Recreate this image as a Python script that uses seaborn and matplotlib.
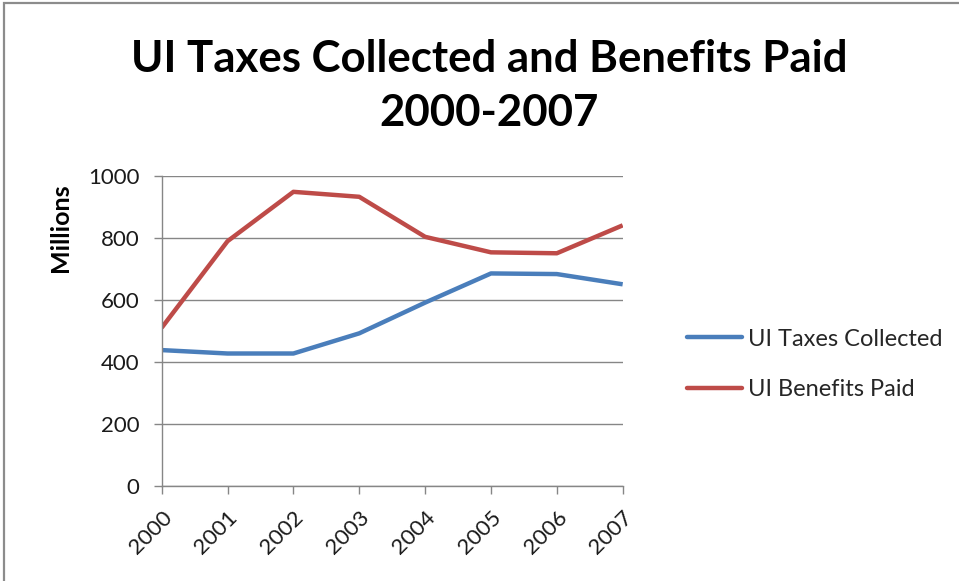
import matplotlib
matplotlib.use("Agg")
import matplotlib.pyplot as plt
import pandas as pd
import seaborn as sns
from matplotlib.lines import Line2D
from matplotlib.patches import Rectangle

years = ["2000", "2001", "2002", "2003", "2004", "2005", "2006", "2007"]
taxes_collected = [438, 427, 427, 492, 591, 685, 683, 650]
benefits_paid = [510, 789, 948, 932, 803, 753, 750, 840]
series_names = ["UI Taxes Collected", "UI Benefits Paid"]
series_colors = ["#4A7EBB", "#BE4B48"]
y_ticks = [0, 200, 400, 600, 800, 1000]

df = pd.DataFrame({
    "Year": list(range(len(years))) * 2,
    "Value": taxes_collected + benefits_paid,
    "Series": [series_names[0]] * len(years) + [series_names[1]] * len(years),
})

sns.set_theme(style="white")
plt.rcParams["font.family"] = ["Lato", "DejaVu Sans"]

fig = plt.figure(figsize=(9.59, 5.81), dpi=100)
fig.patch.set_facecolor("white")
fig.patches.append(Rectangle((4 / 959, -0.1), 2.0, 1.1 - 3 / 581,
                             transform=fig.transFigure, fill=False,
                             edgecolor="#8c8c8c", linewidth=1.6))

ax = fig.add_axes([0.1686, 0.1635, 0.4807, 0.5341])
sns.lineplot(data=df, x="Year", y="Value", hue="Series",
             palette=series_colors, linewidth=3.2, ax=ax, legend=False,
             solid_capstyle="butt")

ax.set_xlim(0, len(years) - 1)
ax.set_ylim(0, 1000)
ax.set_yticks(y_ticks)
ax.set_yticklabels([str(v) for v in y_ticks], fontsize=16, color="#1a1a1a")
ax.set_xticks(range(len(years)))
ax.set_xticklabels(years, rotation=45, ha="right", rotation_mode="anchor",
                   fontsize=16, color="#1a1a1a")
ax.tick_params(axis="both", which="major", direction="out", length=6,
               width=1, color="#868686", left=True, bottom=True)
ax.tick_params(axis="y", pad=10)
ax.tick_params(axis="x", pad=9)
ax.grid(axis="y", color="#868686", linewidth=1)
ax.set_axisbelow(True)
for side in ["top", "right"]:
    ax.spines[side].set_visible(False)
for side in ["left", "bottom"]:
    ax.spines[side].set_color("#868686")
    ax.spines[side].set_linewidth(1)

ax.set_xlabel("")
ax.set_ylabel("Millions", fontsize=18, fontweight="bold", color="black")
ax.yaxis.set_label_coords(-0.195, 0.831)

fig.text(0.51, 0.852, "UI Taxes Collected and Benefits Paid\n2000-2007",
         ha="center", va="center", fontsize=31.5, fontweight="bold",
         linespacing=1.42, color="black")

handles = [Line2D([0], [0], color=c, linewidth=3.2) for c in series_colors]
fig.legend(handles, series_names, loc="center left",
           bbox_to_anchor=(0.694, 0.373), frameon=False, fontsize=17,
           handlelength=2.35, handletextpad=0.25, labelspacing=1.25)

fig.savefig("out.png", dpi=100)
